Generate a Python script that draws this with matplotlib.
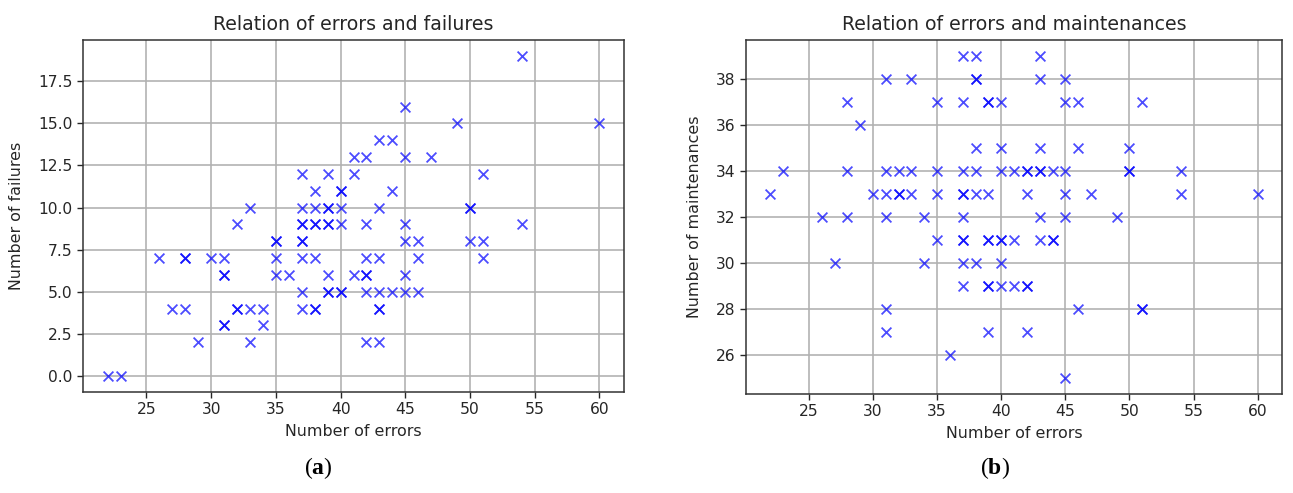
import matplotlib
matplotlib.use("Agg")
import matplotlib.pyplot as plt

# ---- data: panel (a) errors vs failures ----
errors_a = [22, 23,
            29, 33, 42, 43,
            31, 31, 34,
            27, 28, 32, 32, 33, 34, 37, 38, 38, 43, 43,
            37, 39, 39, 40, 40, 42, 43, 44, 45, 46,
            31, 31, 35, 36, 39, 41, 42, 42, 45,
            26, 28, 28, 30, 31, 35, 37, 38, 42, 43, 46, 51,
            35, 35, 37, 37, 45, 46, 50, 51,
            32, 37, 37, 38, 38, 39, 39, 40, 42, 45, 54,
            33, 37, 38, 39, 39, 40, 43, 50, 50,
            38, 40, 40, 44,
            37, 39, 41, 51,
            41, 42, 45, 47,
            43, 44,
            49, 60,
            45,
            54]
failures = [0] * 2 + [2] * 4 + [3] * 3 + [4] * 11 + [5] * 10 + [6] * 9 + \
           [7] * 12 + [8] * 8 + [9] * 11 + [10] * 9 + [11] * 4 + [12] * 4 + \
           [13] * 4 + [14] * 2 + [15] * 2 + [16] * 1 + [19] * 1

# ---- data: panel (b) errors vs maintenances ----
errors_b = [45,
            36,
            31, 39, 42,
            31, 46, 51, 51,
            37, 39, 39, 40, 41, 42, 42,
            27, 34, 37, 38, 40,
            35, 37, 37, 39, 39, 40, 40, 41, 43, 44, 44,
            26, 28, 31, 34, 37, 43, 45, 49,
            22, 30, 31, 32, 32, 33, 35, 37, 37, 38, 39, 42, 45, 47, 54, 60,
            23, 28, 31, 32, 33, 35, 37, 38, 40, 41, 42, 42, 43, 43, 44, 45, 50, 50, 54,
            38, 40, 43, 46, 50,
            29,
            28, 35, 37, 39, 39, 40, 45, 46, 51,
            31, 33, 38, 38, 43, 45,
            37, 38, 43]
maintenances = [25] * 1 + [26] * 1 + [27] * 3 + [28] * 4 + [29] * 7 + [30] * 5 + \
               [31] * 11 + [32] * 8 + [33] * 16 + [34] * 19 + [35] * 5 + \
               [36] * 1 + [37] * 9 + [38] * 6 + [39] * 3

titles = ["Relation of errors and failures", "Relation of errors and maintenances"]
xlabels = ["Number of errors", "Number of errors"]
ylabels = ["Number of failures", "Number of maintenances"]
panel_labels = [r"($\mathbf{a}$)", r"($\mathbf{b}$)"]
x_ticks = [25, 30, 35, 40, 45, 50, 55, 60]
y_ticks_a = [0, 2.5, 5, 7.5, 10, 12.5, 15, 17.5]
y_ticklabels_a = ["0.0", "2.5", "5.0", "7.5", "10.0", "12.5", "15.0", "17.5"]
y_ticks_b = [26, 28, 30, 32, 34, 36, 38]

plt.rcParams["mathtext.fontset"] = "custom"
plt.rcParams["mathtext.rm"] = "Liberation Serif"
plt.rcParams["mathtext.bf"] = "Liberation Serif:bold"
plt.rcParams["text.color"] = "#262626"
plt.rcParams["xtick.color"] = "#262626"
plt.rcParams["ytick.color"] = "#262626"
plt.rcParams["axes.labelcolor"] = "#262626"

fig = plt.figure(figsize=(12.93, 4.93), dpi=100)
ax1 = fig.add_axes([0.0642, 0.2049, 0.4184, 0.7140])
ax2 = fig.add_axes([0.5770, 0.2008, 0.4145, 0.7181])

for ax, xs, ys, t, xl, yl in [(ax1, errors_a, failures, titles[0], xlabels[0], ylabels[0]),
                              (ax2, errors_b, maintenances, titles[1], xlabels[1], ylabels[1])]:
    ax.scatter(xs, ys, marker="x", c="blue", alpha=0.7, s=50, linewidths=1.3, zorder=3)
    ax.grid(True, color="#b0b0b0", linewidth=1.15)
    ax.set_axisbelow(True)
    ax.set_title(t, fontsize=13.6, pad=7)
    ax.set_xlabel(xl, fontsize=11.4, labelpad=5)
    ax.set_ylabel(yl, fontsize=11.4, labelpad=10)
    ax.tick_params(labelsize=11.2, length=4, width=1.0)
    for sp in ax.spines.values():
        sp.set_color("#333333")
        sp.set_linewidth(1.1)
    ax.set_xticks(x_ticks)

ax1.set_yticks(y_ticks_a)
ax1.set_yticklabels(y_ticklabels_a)
ax2.set_yticks(y_ticks_b)

fig.text(318 / 1293, 1 - 468 / 493, panel_labels[0], ha="center", va="center",
         fontsize=17, family="Liberation Serif", color="black")
fig.text(995 / 1293, 1 - 468 / 493, panel_labels[1], ha="center", va="center",
         fontsize=17, family="Liberation Serif", color="black")

fig.savefig("out.png", dpi=100)
